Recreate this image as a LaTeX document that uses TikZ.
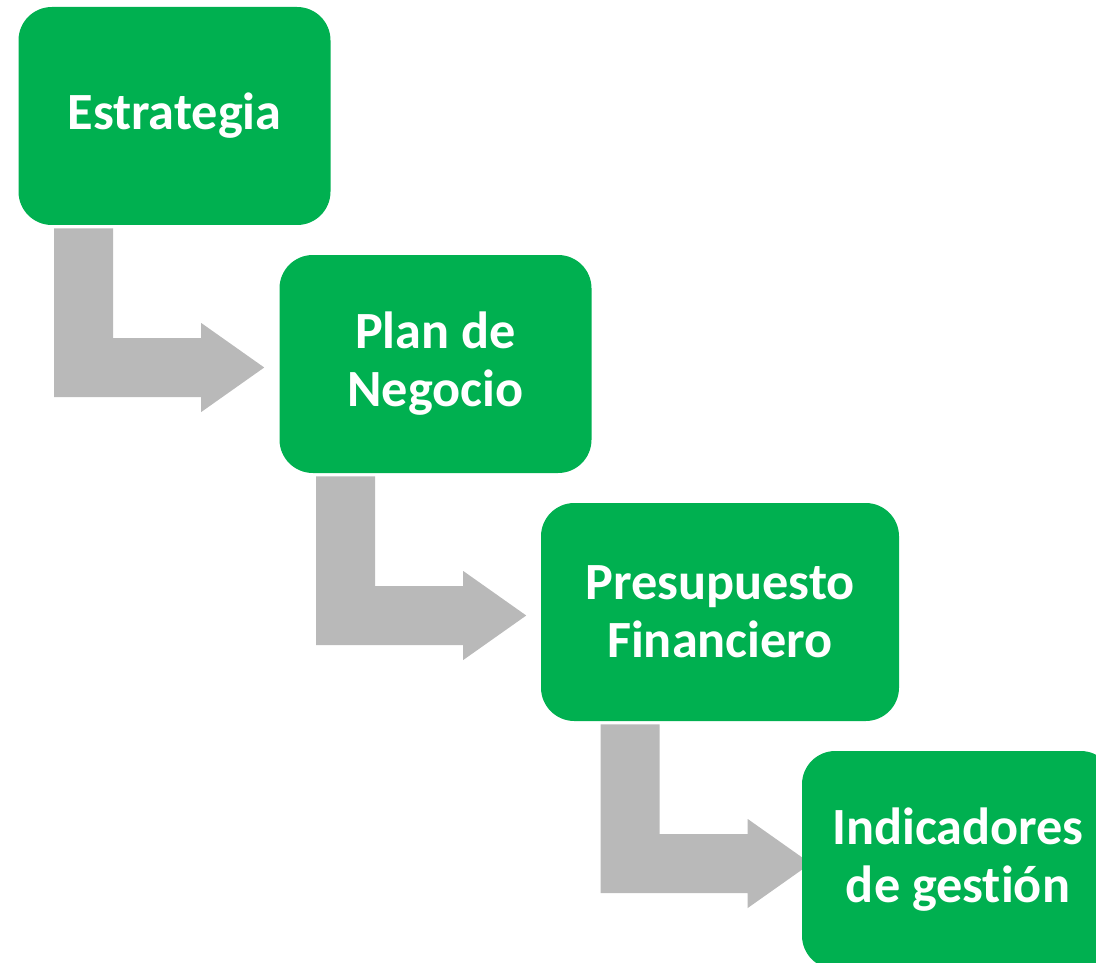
\documentclass[tikz,border=0pt]{standalone}
\usepackage{fontspec}
\setmainfont{Carlito}[Ligatures=NoCommon]
\usetikzlibrary{calc,backgrounds}
\definecolor{verde}{HTML}{00B050}
\definecolor{gris}{HTML}{B9B9B9}
\tikzset{
    caja/.style={fill=verde, text=white, rounded corners=25pt, minimum width=234pt, minimum height=163.5pt,
        align=center, inner sep=0pt, font=\bfseries\fontsize{39.2}{43.5}\selectfont},
    flecha/.style={fill=gris}
}

\begin{document}
\begin{tikzpicture}[x=0.75pt, y=-0.75pt]
    \useasboundingbox (0,0) rectangle (1096,963);
    \clip (0,0) rectangle (1096,963);
    \node[caja] (estrategia) at (174.5,116){Estrategia};
    \node[caja] (plan) at (435.5,364){Plan de\\Negocio};
    \node[caja, minimum width=268.5pt] (presupuesto) at (720,612){Presupuesto\\Financiero};
    \node[caja] (indicadores) at (958,860){Indicadores\\de gestión};

    \coordinate (f1) at ($(estrategia.south west)+(36,3)$);
    \coordinate (g1) at ($(f1 |- plan.center)+(0,3.5)$);
    \coordinate (f2) at ($(plan.south west)+(37,3)$);
    \coordinate (g2) at ($(f2 |- presupuesto.center)+(0,3.5)$);
    \coordinate (f3) at ($(presupuesto.south west)+(60,3)$);
    \coordinate (g3) at ($(f3 |- indicadores.center)+(0,3.5)$);

    \begin{scope}[on background layer]
    \fill[flecha] (f1) -- ++(59,0) -- ($(g1)+(59,-29.5)$) -- ++(88,0) -- ++(0,-15) -- ++(63,44.5)
        -- ++(-63,44.5) -- ++(0,-15) -- ($(g1)+(0,29.5)$) -- cycle;
    \fill[flecha] (f2) -- ++(59,0) -- ($(g2)+(59,-29.5)$) -- ++(88,0) -- ++(0,-15) -- ++(63,44.5)
        -- ++(-63,44.5) -- ++(0,-15) -- ($(g2)+(0,29.5)$) -- cycle;
    \fill[flecha] (f3) -- ++(59,0) -- ($(g3)+(59,-29.5)$) -- ++(88,0) -- ++(0,-15) -- ++(63,44.5)
        -- ++(-63,44.5) -- ++(0,-15) -- ($(g3)+(0,29.5)$) -- cycle;
    \end{scope}
\end{tikzpicture}
\end{document}
